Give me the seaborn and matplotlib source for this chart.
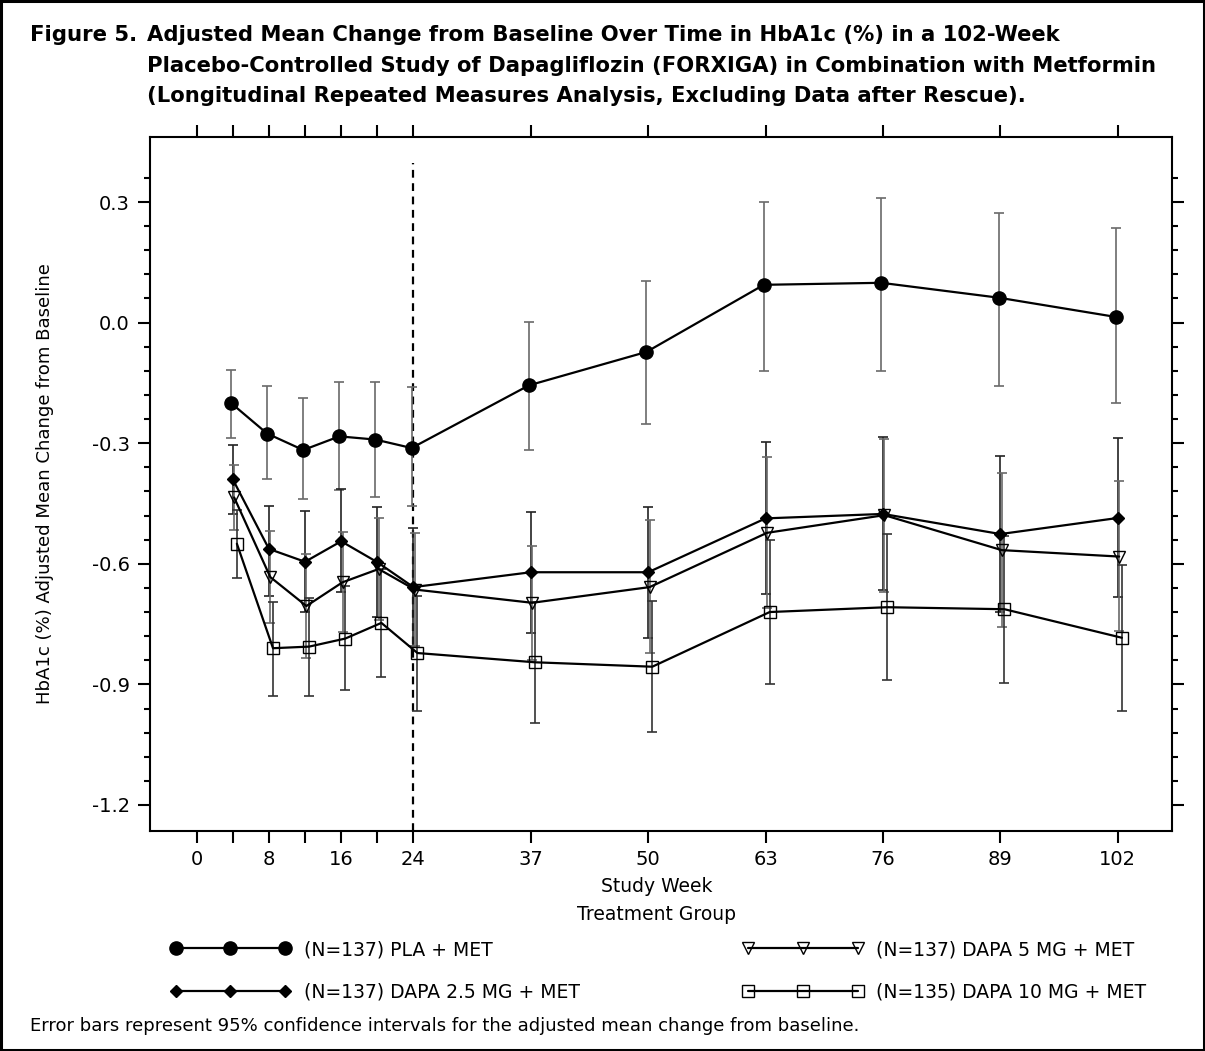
import numpy as np
import pandas as pd
import matplotlib
matplotlib.use("Agg")
import matplotlib.pyplot as plt
from matplotlib.lines import Line2D
from matplotlib.ticker import FixedLocator, NullFormatter
import seaborn as sns

# ---------------- data ----------------
weeks = [4, 8, 12, 16, 20, 24, 37, 50, 63, 76, 89, 102]

pla_mean = [-0.200, -0.276, -0.317, -0.283, -0.291, -0.312, -0.156, -0.073, 0.094, 0.099, 0.062, 0.014]
pla_lo = [-0.287, -0.390, -0.439, -0.416, -0.434, -0.455, -0.316, -0.252, -0.120, -0.120, -0.158, -0.200]
pla_hi = [-0.117, -0.158, -0.187, -0.148, -0.147, -0.160, 0.002, 0.104, 0.301, 0.309, 0.272, 0.235]

d25_mean = [-0.390, -0.563, -0.595, -0.544, -0.596, -0.658, -0.621, -0.621, -0.487, -0.476, -0.526, -0.486]
d25_lo = [-0.475, -0.680, -0.720, -0.670, -0.733, -0.805, -0.772, -0.784, -0.675, -0.666, -0.720, -0.682]
d25_hi = [-0.305, -0.455, -0.469, -0.414, -0.459, -0.511, -0.471, -0.459, -0.298, -0.284, -0.333, -0.288]

d5_mean = [-0.435, -0.633, -0.705, -0.646, -0.613, -0.664, -0.697, -0.658, -0.523, -0.479, -0.566, -0.582]
d5_lo = [-0.517, -0.747, -0.834, -0.770, -0.740, -0.805, -0.840, -0.823, -0.711, -0.669, -0.757, -0.768]
d5_hi = [-0.353, -0.518, -0.575, -0.521, -0.486, -0.523, -0.556, -0.492, -0.335, -0.290, -0.375, -0.395]

d10_mean = [-0.550, -0.810, -0.806, -0.786, -0.747, -0.822, -0.845, -0.856, -0.720, -0.708, -0.713, -0.784]
d10_lo = [-0.635, -0.928, -0.928, -0.915, -0.881, -0.965, -0.996, -1.018, -0.900, -0.890, -0.897, -0.966]
d10_hi = [-0.465, -0.695, -0.685, -0.656, -0.613, -0.679, -0.694, -0.693, -0.540, -0.527, -0.530, -0.602]

group_labels = ["(N=137) PLA + MET", "(N=137) DAPA 2.5 MG + MET",
                "(N=137) DAPA 5 MG + MET", "(N=135) DAPA 10 MG + MET"]

x_tick_major = [0, 8, 16, 24, 37, 50, 63, 76, 89, 102]
x_tick_minor = [4, 12, 20]
y_tick_major = [0.3, 0.0, -0.3, -0.6, -0.9, -1.2]
y_tick_labels = ["0.3", "0.0", "-0.3", "-0.6", "-0.9", "-1.2"]

title_lines = ["Adjusted Mean Change from Baseline Over Time in HbA1c (%) in a 102-Week",
               "Placebo-Controlled Study of Dapagliflozin (FORXIGA) in Combination with Metformin",
               "(Longitudinal Repeated Measures Analysis, Excluding Data after Rescue)."]

# ---------------- style ----------------
sns.set_theme(style="ticks")
plt.rcParams["font.family"] = ["DejaVu Sans"]
plt.rcParams["text.color"] = "black"
plt.rcParams["axes.labelcolor"] = "black"
plt.rcParams["xtick.color"] = "black"
plt.rcParams["ytick.color"] = "black"

W, H = 1205, 1051
fig = plt.figure(figsize=(W / 100, H / 100), dpi=100)
ax = fig.add_axes([150 / W, 1 - 831 / H, (1172 - 150) / W, (831 - 137) / H])

series = [
    dict(mean=pla_mean, lo=pla_lo, hi=pla_hi, marker="o", ms=9.5, mfc="black", off=-0.2, ecol="#6a6a6a"),
    dict(mean=d25_mean, lo=d25_lo, hi=d25_hi, marker="D", ms=6.5, mfc="black", off=0.0, ecol="#222222"),
    dict(mean=d5_mean, lo=d5_lo, hi=d5_hi, marker="v", ms=8.5, mfc="none", off=0.15, ecol="#6a6a6a"),
    dict(mean=d10_mean, lo=d10_lo, hi=d10_hi, marker="s", ms=8.0, mfc="none", off=0.45, ecol="#333333"),
]

for s, lab in zip(series, group_labels):
    xs = np.array(weeks, dtype=float) + s["off"]
    m = np.array(s["mean"])
    yerr = np.vstack([m - np.array(s["lo"]), np.array(s["hi"]) - m])
    ax.errorbar(xs, m, yerr=yerr, fmt="none", ecolor=s["ecol"], elinewidth=1.2,
                capsize=3.8, capthick=1.2, zorder=2)
    df = pd.DataFrame({"week": xs, "value": m})
    sns.lineplot(data=df, x="week", y="value", ax=ax, color="black", linewidth=1.6,
                 marker=s["marker"], markersize=s["ms"], markerfacecolor=s["mfc"],
                 markeredgecolor="black", markeredgewidth=1.0, zorder=3, legend=False)

# dashed reference line at week 24
ax.plot([24, 24], [-1.2647, 0.397], color="black", linestyle=(0, (3.5, 2.5)), linewidth=1.6, zorder=1)

ax.set_xlim(-5.17, 108.0)
ax.set_ylim(-1.2647, 0.4617)

ax.xaxis.set_major_locator(FixedLocator(x_tick_major))
ax.xaxis.set_minor_locator(FixedLocator(x_tick_minor))
ax.set_xticklabels([str(v) for v in x_tick_major])
ax.xaxis.set_minor_formatter(NullFormatter())
ax.yaxis.set_major_locator(FixedLocator(y_tick_major))
ax.set_yticklabels(y_tick_labels)
minor_y = [round(v, 2) for v in np.arange(-1.2, 0.37, 0.06) if all(abs(v - t) > 1e-6 for t in y_tick_major)]
ax.yaxis.set_minor_locator(FixedLocator(minor_y))
ax.yaxis.set_minor_formatter(NullFormatter())

ax.tick_params(axis="x", which="both", direction="out", length=8.5, width=1.5, top=True,
               bottom=True, labelsize=14, pad=5, colors="black")
ax.tick_params(axis="y", which="major", direction="out", length=8.5, width=1.5, left=True,
               right=True, labelsize=14, pad=6, colors="black")
ax.tick_params(axis="y", which="minor", direction="out", length=4.5, width=1.5, left=True,
               right=True, colors="black")
for sp in ax.spines.values():
    sp.set_visible(True)
    sp.set_linewidth(1.5)
    sp.set_color("black")
ax.set_xlabel("")
ax.set_ylabel("")
ax.grid(False)

# labels
fs = 13.5
fig.text(45 / W, 1 - 484 / H, "HbA1c (%) Adjusted Mean Change from Baseline", rotation=90,
         ha="center", va="center", fontsize=13.1, color="black")
fig.text(657 / W, 1 - 887 / H, "Study Week", ha="center", va="center", fontsize=fs, color="black")
fig.text(657 / W, 1 - 915 / H, "Treatment Group", ha="center", va="center", fontsize=fs, color="black")

# title
fig.text(30 / W, 1 - 41 / H, "Figure 5.", ha="left", va="baseline", fontsize=15.3,
         fontweight="bold", color="black")
for i, line in enumerate(title_lines):
    fig.text(147 / W, 1 - (41 + 30.5 * i) / H, line, ha="left", va="baseline",
             fontsize=15.2, fontweight="bold", color="black")

# legend
handles = []
for s in series:
    handles.append(Line2D([], [], color="black", linewidth=1.6, marker=s["marker"],
                          markersize=s["ms"], markerfacecolor=s["mfc"],
                          markeredgecolor="black", markeredgewidth=1.0))
leg = fig.legend(handles, group_labels, ncol=2, loc="upper left",
                 bbox_to_anchor=(170 / W, 1 - 940 / H), frameon=False, numpoints=3,
                 handlelength=6.45, handletextpad=0.7, columnspacing=8.65, labelspacing=1.27,
                 borderpad=0, borderaxespad=0, fontsize=fs)
for t in leg.get_texts():
    t.set_color("black")

fig.text(30 / W, 1 - 1031 / H,
         "Error bars represent 95% confidence intervals for the adjusted mean change from baseline.",
         ha="left", va="baseline", fontsize=13.0, color="black")

# figure border
fig.patches.append(plt.Rectangle((0.001, 0.001), 0.998, 0.998, transform=fig.transFigure,
                                 fill=False, edgecolor="black", linewidth=2.2))

fig.savefig("out.png", dpi=100, facecolor="white")
